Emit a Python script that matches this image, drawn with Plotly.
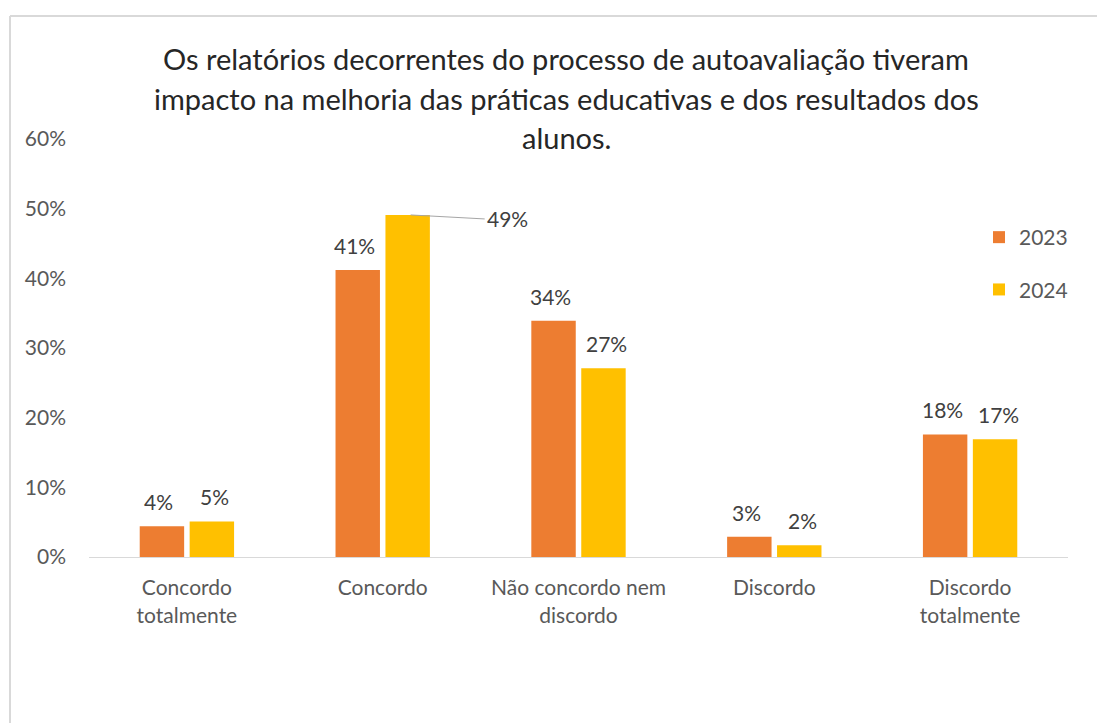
import plotly.graph_objects as go

# Data
categories = ["Concordo<br>totalmente", "Concordo", "Não concordo nem<br>discordo",
              "Discordo", "Discordo<br>totalmente"]
years = ["2023", "2024"]
values_2023 = [0.044, 0.412, 0.339, 0.029, 0.176]
values_2024 = [0.051, 0.491, 0.271, 0.017, 0.169]
title_lines = ["Os relatórios decorrentes do processo de autoavaliação tiveram",
               "impacto na melhoria das práticas educativas e dos resultados dos",
               "alunos."]

colors = {"2023": "#ED7D31", "2024": "#FFC000"}
FONT = "Lato"

# page body adds an 8px offset, so the figure is laid out in screen pixels minus 8
OFF = 8
W, H = 1105 - OFF, 723 - OFF
L, R, T, B = 89 - OFF, 37, 139 - OFF, 166
plot_w = W - L - R
plot_h = H - T - B


def px_x(p):
    # screen pixel -> paper x
    return (p - OFF - L) / plot_w


def px_y(p):
    # screen pixel -> paper y
    return (H - B - (p - OFF)) / plot_h


fig = go.Figure()

series = {"2023": values_2023, "2024": values_2024}
for yr in years:
    fig.add_trace(go.Bar(
        x=categories,
        y=series[yr],
        name=yr,
        marker=dict(color=colors[yr], line=dict(width=0)),
        legendgroup=yr,
    ))

# data labels
offsets = {"2023": -28, "2024": 28}
for yr in years:
    for cat, v in zip(categories, series[yr]):
        if yr == "2024" and cat == "Concordo":
            # label pulled out with a leader line
            fig.add_annotation(
                x=cat, y=v, xshift=offsets[yr], text=f"{v:.0%}",
                showarrow=True, arrowhead=0, arrowwidth=1, arrowcolor="#A6A6A6",
                ax=74, ay=4, xanchor="left",
                font=dict(family=FONT, size=21, color="#404040"),
            )
            continue
        fig.add_annotation(
            x=cat, y=v, xshift=offsets[yr], yshift=10, text=f"{v:.0%}",
            showarrow=False, yanchor="bottom",
            font=dict(family=FONT, size=21, color="#404040"),
        )

# title lines
for i, line in enumerate(title_lines):
    fig.add_annotation(
        xref="paper", yref="paper", x=px_x(566), y=px_y(59 + i * 39),
        text=line, showarrow=False, xanchor="center", yanchor="middle",
        font=dict(family=FONT, size=29, color="#262626"),
    )

# chart area border (top and left edges visible)
border = dict(color="#D9D9D9", width=2)
fig.add_shape(type="line", xref="paper", yref="paper",
              x0=px_x(10), x1=px_x(1120), y0=px_y(16), y1=px_y(16), line=border)
fig.add_shape(type="line", xref="paper", yref="paper",
              x0=px_x(10), x1=px_x(10), y0=px_y(16), y1=px_y(740), line=border)

fig.update_layout(
    width=W, height=H,
    margin=dict(l=L, r=R, t=T, b=B),
    paper_bgcolor="white", plot_bgcolor="white",
    barmode="group", bargap=0.49, bargroupgap=0.11,
    font=dict(family=FONT, size=21, color="#595959"),
    showlegend=True,
    legend=dict(x=px_x(979), y=px_y(217), xanchor="left", yanchor="top",
                font=dict(family=FONT, size=21, color="#595959"),
                tracegroupgap=22, bgcolor="rgba(0,0,0,0)"),
    xaxis=dict(showline=True, linecolor="#D9D9D9", linewidth=1,
               showgrid=False, ticks="", ticklabelstandoff=12,
               tickfont=dict(size=21, color="#595959")),
    yaxis=dict(range=[0, 0.6], dtick=0.1, tickformat=".0%", showgrid=False,
               showline=False, zeroline=False, ticks="", ticklabelstandoff=22,
               tickfont=dict(size=21, color="#595959")),
)

fig.write_html("out.html")
